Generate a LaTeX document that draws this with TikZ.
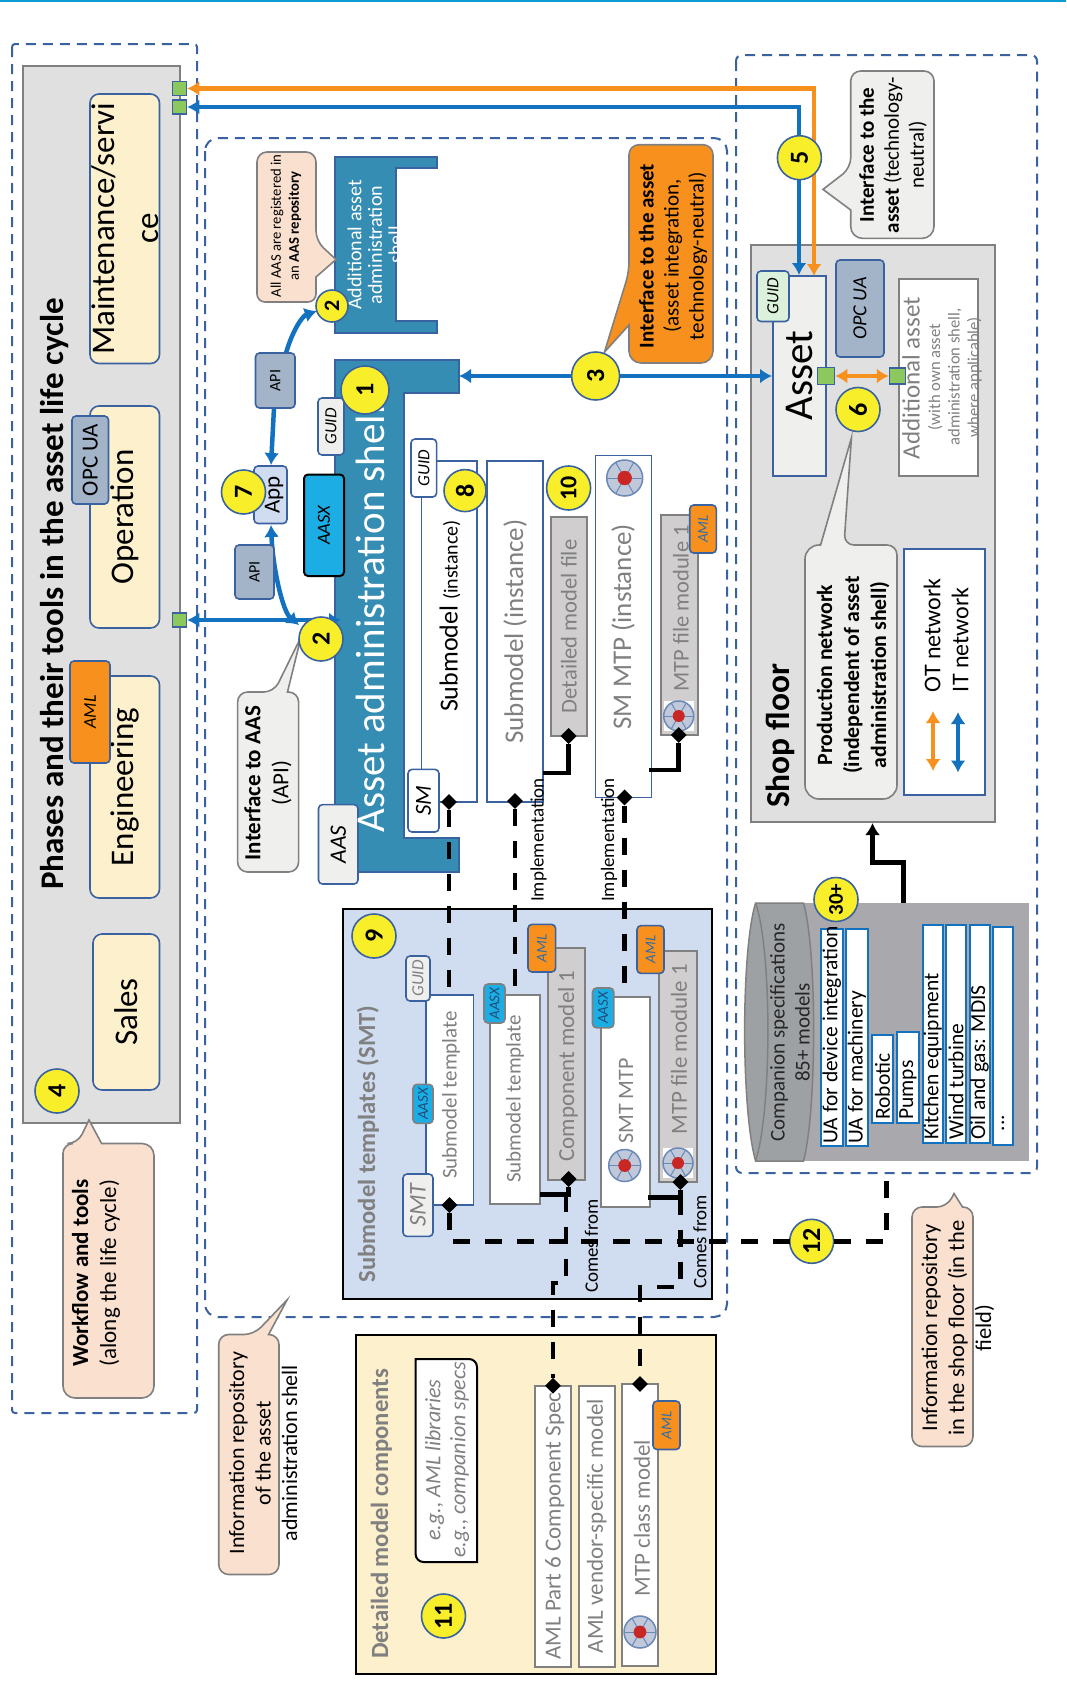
\documentclass[tikz,border=0pt]{standalone}
\usepackage{fontspec}
\setmainfont{Carlito}
\usetikzlibrary{arrows.meta,shapes.geometric}
\definecolor{edgeblue}{HTML}{3A62A0}
\definecolor{arrowblue}{HTML}{1272BF}
\definecolor{arroworange}{HTML}{F8901E}
\definecolor{shellteal}{HTML}{358DB3}
\definecolor{panelgray}{HTML}{E0E0E0}
\definecolor{cream}{HTML}{FDF0CD}
\definecolor{peach}{HTML}{F9E0CF}
\definecolor{paper}{HTML}{EFF0EE}
\definecolor{steel}{HTML}{A3B4C9}
\definecolor{sky}{HTML}{1CADE4}
\definecolor{pale}{HTML}{D0DCEF}
\definecolor{badgeyellow}{HTML}{F8EF2A}
\definecolor{portgreen}{HTML}{8DC85E}
\definecolor{filegray}{HTML}{D0CECE}
\definecolor{midgray}{HTML}{808080}
\definecolor{specgray}{HTML}{A9A8AC}
\definecolor{drumgray}{HTML}{9EA1A4}
\definecolor{inkblue}{HTML}{2F6DA8}
\newcommand{\fs}[2]{\fontsize{#1}{#2}\selectfont}
% style, name, left, top, right, bottom, text
\newcommand{\bx}[7]{\node[#1,minimum width={#6-#4},minimum height={#5-#3}] (#2) at ({(#3+#5)/2},{(#4+#6)/2}) {#7};}
% name, x, y, radius
\newcommand{\mtpicon}[4]{
    \fill[white] ({#2-#4},{#3-#4}) rectangle ({#2+#4},{#3+#4});
    \node[circle,draw=edgeblue!75,fill=pale!80!gray,line width=1.5pt,minimum size=#4*2pt,inner sep=0pt] (#1) at (#2,#3) {};
    \foreach \a in {0,60,...,300}{
        \draw[edgeblue!75,line width=1pt] (#1.center) -- ++(\a:#4);
    }
    \node[circle,fill=red!75!black!85,minimum size=#4*0.8pt,inner sep=0pt] (#1red) at (#2,#3) {};
}
\tikzset{
    lbl/.style={rotate=90,align=center,inner sep=0pt,outer sep=0pt},
    hollow/.style={draw=edgeblue,dash pattern=on 10pt off 7pt,line width=2pt},
    cell/.style={lbl,draw=edgeblue,line width=1.6pt,fill=white},
    grayedge/.style={cell,draw=midgray,line width=2pt},
    rrect/.style={cell,rounded corners=9pt},
    phasebox/.style={rrect,fill=cream,font=\fs{33}{44}},
    tagbox/.style={cell,rounded corners=4pt,font=\itshape\fs{17}{20}},
    minitag/.style={tagbox,fill=sky,draw=midgray,text=inkblue!70!black,font=\itshape\fs{15}{16}},
    amltag/.style={tagbox,fill=arroworange,text=inkblue,font=\itshape\fs{15}{18}},
    filebox/.style={grayedge,fill=filegray,text=midgray},
    speclist/.style={cell,draw=arrowblue,line width=2pt},
    listtxt/.style={lbl,anchor=west,font=\fs{21.5}{24}},
    port/.style={draw=edgeblue,fill=portgreen,line width=1.5pt,minimum size=14pt,inner sep=0pt},
    badge/.style={lbl,circle,draw=edgeblue,fill=badgeyellow,line width=1.6pt,minimum size=44pt,font=\bfseries\fs{26}{26}},
    joint/.style={diamond,fill=black,minimum size=16pt,inner sep=0pt},
    shellbody/.style={fill=shellteal,draw=edgeblue,line width=1.4pt},
    peachcall/.style={fill=peach,draw=midgray,line width=1.6pt,rounded corners=10pt},
    graycall/.style={fill=paper,draw=midgray,line width=1.6pt,rounded corners=10pt},
    orangecall/.style={fill=arroworange,draw=midgray,line width=1.6pt,rounded corners=10pt},
    bluearrow/.style={draw=arrowblue,line width=4.5pt,-{Latex[length=12pt,width=15pt]}},
    bluetwin/.style={draw=arrowblue,line width=4.5pt,{Latex[length=12pt,width=15pt]}-{Latex[length=12pt,width=15pt]}},
    orangetwin/.style={draw=arroworange,line width=4.5pt,{Latex[length=12pt,width=15pt]}-{Latex[length=12pt,width=15pt]}},
    solidlink/.style={draw=black,line width=4.5pt},
    blacklink/.style={solidlink,-{Latex[length=12pt,width=15pt]}},
    dashlink/.style={draw=black,line width=4.5pt,dash pattern=on 17pt off 15pt},
    note/.style={lbl,font=\fs{19}{20}},
}
\begin{document}
\begin{tikzpicture}[x=1pt,y=-1pt]
    \useasboundingbox (0,0) rectangle (1066,1705);
    \fill[white] (0,0) rectangle (1066,1705);
    \draw[color=arrowblue!70!cyan,line width=2pt] (0,1) -- (1066,1);

    % dashed frames
    \draw[hollow,rounded corners=3pt] (12,44) rectangle (197,1413);
    \draw[hollow,rounded corners=13pt] (205,138) rectangle (727,1317);
    \draw[hollow,rounded corners=6pt] (736,55) rectangle (1037,1173);

    % phases
    \draw[fill=panelgray,draw=midgray,line width=2pt] (23,66) rectangle (180,1123);
    \node[lbl,font=\bfseries\fs{33}{34}] (phasetitle) at (55,594) {Phases and their tools in the asset life cycle};
    \bx{phasebox}{maint}{90}{94}{159.5}{363.5}{Maintenance/servi\\ce}
    \bx{phasebox}{oper}{90}{406}{159.5}{628}{Operation}
    \bx{phasebox}{engin}{90}{676}{159.5}{898}{Engineering}
    \bx{phasebox}{sales}{93}{934}{159.5}{1090}{Sales}
    \bx{tagbox,fill=steel,font=\fs{23}{24}}{opcphase}{72}{416}{108.5}{504}{OPC UA}
    \bx{tagbox,fill=arroworange,font=\itshape\fs{18}{24}}{amlphase}{70}{661}{110}{763}{AML}
    \node[port] (portot) at (179.5,88.5) {};
    \node[port] (portit) at (179.5,107) {};
    \node[port] (portaas) at (179.5,620) {};
    \node[badge] (nfour) at (57,1091) {4};
    \draw[peachcall] (63,1270) -- (63,1143.5) -- (77.5,1143.5) [sharp corners] -- (89,1120) -- (101.6,1143.5) [rounded corners=12pt] -- (154,1143.5) -- (154,1398) -- (63,1398) -- cycle;
    \node[lbl,font=\fs{23}{28}] (workflow) at (96,1273) {\textbf{Workflow and tools}\\(along the life cycle)};

    % additional shell
    \draw[shellbody] (335,157) -- (437,157) -- (437,168) -- (396,168) -- (396,321) -- (437,321) -- (437,333) -- (335,333) -- cycle;
    \node[lbl,text=white,font=\fs{20}{20.5}] (addshell) at (375,245) {Additional asset\\administration\\shell};
    \draw[peachcall] (257,230) -- (257,152) -- (316,152) -- (316,241) [sharp corners] -- (336,259.5) -- (316,277) [rounded corners=8pt] -- (316,302) -- (257,302) -- cycle;
    \node[lbl,font=\fs{14.7}{18}] (registered) at (286,226) {All AAS are registered in\\an \textbf{AAS repository}};
    \node[badge,minimum size=32pt,font=\bfseries\fs{22}{22}] (ntwotop) at (332,306) {2};

    % main shell
    \draw[shellbody] (335,360) -- (459,360) -- (459,393) -- (404,393) -- (404,838) -- (459,838) -- (459,872) -- (335,872) -- cycle;
    \bx{tagbox,fill=paper,font=\fs{23.5}{24}\itshape}{aastag}{318.5}{804.6}{358}{884}{AAS}
    \node[lbl,text=white,font=\fs{41}{44}] (shellname) at (370,619) {Asset administration shell};
    \bx{tagbox,fill=paper}{guidshell}{318}{398}{344}{455}{GUID}
    \bx{tagbox,fill=sky,draw=black,line width=2pt,font=\itshape\fs{18.5}{24}}{aasx}{304}{474.5}{344}{576}{AASX}
    \node[badge,minimum size=48pt] (none) at (365,390) {1};

    % api and app
    \coordinate (apitopend) at (286,353);
    \coordinate (apitopfoot) at (274,408);
    \coordinate (apphead) at (271,465);
    \coordinate (appfoot) at (271,525);
    \coordinate (shellcurve) at (299,625);
    \coordinate (shellin) at (341,620);
    \draw[bluearrow] (apitopfoot) -- (apphead);
    \draw[bluearrow] (apitopend) .. controls (292,332) and (302,316) .. (ntwotop);
    \draw[bluetwin] (appfoot) .. controls (273,570) and (283,612) .. (shellcurve);
    \draw[bluetwin] (portaas) -- (shellin);
    \bx{tagbox,fill=steel,font=\fs{16}{20}}{apitop}{255.5}{353}{295}{408}{API}
    \bx{tagbox,fill=steel,font=\fs{16}{20}}{apilow}{235}{545}{274}{599}{API}
    \bx{tagbox,fill=pale}{app}{254}{466}{287}{523.5}{}
    \node[lbl,font=\fs{23}{26}] (apptxt) at (274,495) {App};
    \node[badge] (nseven) at (243.5,492) {7};
    \draw[graycall] (237.6,780) -- (237.6,692) -- (274,692) [sharp corners] -- (301,637) -- (287.5,692) [rounded corners=10pt] -- (298.6,692) -- (298.6,872) -- (237.6,872) -- cycle;
    \node[badge] (ntwo) at (321,639) {2};
    \node[lbl,font=\fs{23}{28}] (ifaas) at (268,783) {\textbf{Interface to AAS}\\(API)};

    % submodel instances
    \bx{cell}{smfirst}{421.5}{461}{477}{802}{}
    \node[lbl] (smfirsttxt) at (450,616) {\fs{26}{28}Submodel \fs{20}{28}(instance)};
    \bx{tagbox}{guidsm}{411}{439}{436.6}{497}{GUID}
    \bx{tagbox,font=\itshape\fs{23}{24}}{smtag}{408}{769.4}{439}{832}{SM}
    \node[badge,minimum size=42pt] (neight) at (465,490.6) {8};
    \bx{cell,text=midgray,font=\fs{27}{28}}{smsecond}{487}{461}{543}{802}{Submodel (instance)}
    \bx{cell}{smmtp}{595.6}{455.4}{651.4}{797.4}{}
    \node[lbl,text=midgray,font=\fs{27}{28}] (smmtptxt) at (623,626.6) {SM MTP (instance)};
    \bx{filebox,font=\fs{22.6}{26}}{detailfile}{550.5}{516.6}{587.4}{736}{Detailed model file}
    \bx{filebox}{mtpfile}{661}{514.7}{697.5}{735}{}
    \node[lbl,text=midgray,font=\fs{22.5}{26}] (mtpfiletxt) at (681,608.5) {MTP file module 1};
    \bx{amltag}{amlfile}{689.7}{505}{716.3}{553}{AML}
    \node[badge,font=\bfseries\fs{24}{24}] (nten) at (568.6,488) {10};
    \mtpicon{iconsm}{624.7}{478}{18}
    \mtpicon{iconfile}{678.7}{716}{15}
    \coordinate (detailbend) at (543,773);
    \coordinate (mtpbend) at (648.6,770);
    \node[joint] (jdetail) at (568.6,736) {};
    \node[joint] (jmtpfile) at (678.7,735) {};
    \draw[solidlink] (jdetail) |- (detailbend);
    \draw[solidlink] (jmtpfile) |- (mtpbend);
    \node[note] (implone) at (538.5,840) {Implementation};
    \node[note] (impltwo) at (609,840) {Implementation};

    % asset side
    \draw[orangecall] (713,250) -- (713,144.7) -- (629,144.7) -- (629,272) [sharp corners] -- (604.5,352) -- (629,325) [rounded corners=12pt] -- (629,363) -- (713,363) -- cycle;
    \node[lbl,font=\fs{21}{25}] (ifasset) at (673,256) {\textbf{Interface to the asset}\\(asset integration,\\technology-neutral)};
    \draw[fill=panelgray,draw=midgray,line width=2pt] (750.5,245) rectangle (995,822);
    \draw[graycall] (934,150) -- (934,71) -- (850.7,71) -- (850.7,168) [sharp corners] -- (823,189.4) -- (850.7,210) [rounded corners=12pt] -- (850.7,238.4) -- (934,238.4) -- cycle;
    \node[lbl,font=\fs{21}{25}] (iftech) at (893,155) {\textbf{Interface to the}\\\textbf{asset} (technology-\\neutral)};
    \bx{cell,fill=paper,font=\fs{41}{42}}{asset}{772.7}{276}{826}{475.7}{Asset}
    \bx{tagbox,fill=green!8!paper}{guidasset}{757}{271}{789}{321.5}{GUID}
    \bx{tagbox,fill=steel,font=\itshape\fs{20}{24}}{opcasset}{836}{260}{884}{357}{OPC UA}
    \bx{grayedge}{addasset}{898.5}{279}{978}{476}{}
    \node[lbl,text=midgray,font=\fs{25}{30}] (addname) at (911,378) {Additional asset};
    \node[lbl,text=midgray,font=\fs{16.6}{19.5}] (addnote) at (955,377) {(with own asset\\administration shell,\\where applicable)};
    \node[port,minimum size=17pt] (portasset) at (826,376) {};
    \node[port,minimum size=16pt] (portadd) at (897.5,376) {};
    \draw[orangetwin] (portasset) -- (portadd);
    \coordinate (assetit) at (799,275);
    \coordinate (assetot) at (814,276);
    \coordinate (assetleft) at (772,376);
    \coordinate (shellright) at (459,376);
    \draw[orangetwin] (portot.east) -| (assetot);
    \draw[bluetwin] (portit.east) -| (assetit);
    \draw[bluetwin] (shellright) -- (assetleft);
    \node[badge,minimum size=48pt] (nthree) at (595.6,376) {3};
    \node[badge] (nfive) at (799.4,157.7) {5};
    \node[badge] (nsix) at (858,409.5) {6};
    \draw[graycall] (897,670) -- (897,545) -- (844,545) [sharp corners] -- (851.4,438) -- (820.6,545) [rounded corners=14pt] -- (805,545) -- (805,799) -- (897,799) -- cycle;
    \node[lbl,font=\bfseries\fs{21.8}{27}] (prodnet) at (853,675) {Production network\\(independent of asset\\administration shell)};
    \node[lbl,font=\bfseries\fs{33.5}{36}] (shopfloor) at (780,736) {Shop floor};
    \bx{cell}{legend}{904}{549}{985}{795}{}
    \node[lbl,anchor=west,font=\fs{24}{28}] (ottxt) at (932,692) {OT network};
    \node[lbl,anchor=west,font=\fs{24}{28}] (ittxt) at (960,692) {IT network};
    \coordinate (ottop) at (933,711);
    \coordinate (otbot) at (933,771);
    \coordinate (ittop) at (958,712);
    \coordinate (itbot) at (958,772.5);
    \draw[orangetwin] (ottop) -- (otbot);
    \draw[bluetwin] (ittop) -- (itbot);

    % companion specifications
    \fill[specgray] (755.6,903) rectangle (1028.5,1161);
    \draw[fill=drumgray,draw=midgray,line width=1.5pt] (755.6,903) .. controls (741,950) and (741,1110) .. (755.6,1161) -- (803.5,1161) .. controls (817,1110) and (817,950) .. (803.5,903) -- cycle;
    \draw[draw=midgray,line width=1.5pt] (755.6,903) .. controls (772,950) and (772,1110) .. (755.6,1161);
    \node[lbl,text=black!85,font=\fs{21}{25}] (compspec) at (790,1032.5) {Companion specifications\\85+ models};
    \coordinate (specout) at (903.7,903);
    \coordinate (shopin) at (872.5,823);
    \draw[blacklink] (specout) -- ++(0,-40.6) -| (shopin);
    \foreach \nm/\xa/\xb/\yt/\yb/\txt in {devint/820.6/843/929/1146.4/UA for device integration,
        machinery/846/868/929/1146.4/UA for machinery,
        robotic/872/893/1035/1122.7/Robotic,
        pumps/897/919/1031.6/1122.7/Pumps,
        kitchen/922.5/943/925/1142.6/Kitchen equipment,
        wind/946/966/925/1142.6/Wind turbine,
        oil/969.7/989.5/925/1142.6/Oil and gas: MDIS}{
        \bx{speclist}{\nm}{\xa}{\yt}{\xb}{\yb}{}
        \node[listtxt] (\nm txt) at ({(\xa+\xb)/2},{\yb-3}) {\txt};
    }
    \bx{speclist}{moremodels}{993}{927}{1012.7}{1144.5}{}
    \node[listtxt] (moretxt) at (1003,1131) {...};
    \node[badge,font=\bfseries\fs{21}{22}] (nthirty) at (836,899.5) {30+};

    % submodel templates
    \draw[fill=pale,draw=black,line width=2pt] (343,909) rectangle (712,1299);
    \node[lbl,text=midgray,font=\bfseries\fs{24.6}{28}] (smttitle) at (368,1144) {Submodel templates (SMT)};
    \node[badge] (nnine) at (374,936) {9};
    \bx{cell}{smtfirst}{426}{995}{473.5}{1205}{}
    \node[lbl,text=midgray,font=\fs{21}{24}] (smtfirsttxt) at (451,1095) {Submodel template};
    \bx{tagbox,fill=paper,text=midgray}{guidsmt}{406}{956}{430}{1001}{GUID}
    \bx{minitag}{aasxone}{413}{1084.4}{433}{1123.4}{AASX}
    \bx{tagbox,fill=paper,text=midgray,font=\itshape\fs{24}{24}}{smttag}{403}{1174}{433}{1236.4}{SMT}
    \bx{grayedge}{smtsecond}{490}{995}{540}{1204}{}
    \node[lbl,text=midgray,font=\fs{21}{24}] (smtsecondtxt) at (515,1099) {Submodel template};
    \bx{minitag}{aasxtwo}{484}{984}{505}{1023}{AASX}
    \bx{filebox}{compmodel}{548}{948}{585}{1180}{}
    \node[lbl,text=midgray,font=\fs{23}{24}] (compmodeltxt) at (568,1066) {Component model 1};
    \bx{amltag}{amlcomp}{528}{924.4}{555.6}{972}{AML}
    \bx{grayedge}{smtmtp}{601}{997}{649.6}{1206.6}{}
    \node[lbl,text=midgray,font=\fs{22}{24}] (smtmtptxt) at (626,1101) {SMT MTP};
    \bx{minitag}{aasxthree}{592.5}{988}{613.8}{1027.8}{AASX}
    \bx{filebox}{mtpmodule}{659}{950.5}{696.5}{1182}{}
    \node[lbl,text=midgray,font=\fs{23}{24}] (mtpmoduletxt) at (679,1049) {MTP file module 1};
    \bx{amltag}{amlmodule}{637}{925.6}{664}{973.4}{AML}
    \mtpicon{iconsmt}{624.7}{1165.5}{16}
    \mtpicon{iconmodule}{678}{1163}{15}

    % detailed components
    \draw[fill=cream,draw=black,line width=2pt] (356.4,1335) rectangle (716,1674);
    \node[lbl,text=midgray,font=\bfseries\fs{24.7}{28}] (detailtitle) at (381.5,1514) {Detailed model components};
    \draw[fill=white,draw=black,line width=2pt] (446,1359) [rounded corners=8pt] -- (477,1359) -- (477,1450) [sharp corners] -- (477,1562) -- (446,1562) [rounded corners=8pt] -- (415.6,1562) -- (415.6,1450) [sharp corners] -- (415.6,1359) -- cycle;
    \node[lbl,text=midgray,font=\itshape\fs{22}{25}] (egtxt) at (447,1460) {e.g., AML libraries\\e.g., companion specs};
    \node[badge] (neleven) at (443.5,1616) {11};
    \bx{grayedge}{amlpart}{535}{1385.7}{571}{1666.6}{}
    \node[lbl,text=midgray,font=\fs{23}{26}] (amlparttxt) at (554.6,1526) {AML Part 6 Component Spec};
    \bx{grayedge,text=midgray,font=\fs{23}{26}}{amlvendor}{578.5}{1385.7}{614.8}{1666.6}{AML vendor-specific model}
    \bx{grayedge}{mtpclass}{622}{1384}{658}{1665.5}{}
    \node[lbl,text=midgray,font=\fs{23}{26}] (mtpclasstxt) at (642,1518) {MTP class model};
    \bx{amltag}{amlclass}{653}{1401}{680}{1449.5}{AML}
    \mtpicon{iconclass}{640}{1632}{16}

    % links between the levels
    \node[joint] (jfirst) at (449,802) {};
    \node[joint] (jsecond) at (515,801) {};
    \node[joint] (jmtp) at (624.5,797.4) {};
    \node[joint] (jsmt) at (449.4,1205) {};
    \node[joint] (jcomp) at (568.6,1179) {};
    \node[joint] (jmodule) at (680.4,1182) {};
    \node[joint] (jpart) at (553,1385.7) {};
    \node[joint] (jclass) at (640,1384) {};
    \coordinate (smtfirsttop) at (449,995);
    \coordinate (smtsecondtop) at (515,995);
    \coordinate (smtmtptop) at (624.5,997);
    \coordinate (compbend) at (566,1194.6);
    \coordinate (compedge) at (540,1194.6);
    \coordinate (modulebend) at (680.4,1197.6);
    \coordinate (moduleedge) at (648,1197.6);
    \coordinate (frametap) at (886.6,1173);
    \draw[dashlink] (jfirst) -- (smtfirsttop);
    \draw[dashlink] (jsecond) -- (smtsecondtop);
    \draw[dashlink] (jmtp) -- (smtmtptop);
    \draw[solidlink] (jcomp) |- (compedge);
    \draw[solidlink] (jmodule) |- (moduleedge);
    \draw[dashlink] (compbend) -- ++(0,88.4) -| (jpart);
    \draw[dashlink] (modulebend) -- ++(0,89.4) -| (jclass);
    \node[badge] (ntwelve) at (811.7,1241.3) {12};
    \draw[dashlink] (jsmt) |- (ntwelve);
    \draw[dashlink] (ntwelve) -| (frametap);
    \node[note] (comesone) at (591.5,1246) {Comes from};
    \node[note] (comestwo) at (700,1242) {Comes from};

    % remaining notes
    \draw[peachcall] (218.7,1450) -- (218.7,1334.5) -- (254,1334.5) [sharp corners] -- (287,1300) -- (268.6,1334.5) [rounded corners=10pt] -- (279,1334.5) -- (279,1574.5) -- (218.7,1574.5) -- cycle;
    \node[lbl,font=\fs{22}{26.5}] (infoaas) at (263,1453) {Information repository\\of the asset\\administration shell};
    \draw[peachcall] (912,1320) -- (912,1207) -- (947,1207) [sharp corners] -- (954,1193.5) -- (962.5,1207) [rounded corners=10pt] -- (973,1207) -- (973,1446.5) -- (912,1446.5) -- cycle;
    \node[lbl,font=\fs{22.5}{27}] (infofield) at (958,1328) {Information repository\\in the shop floor (in the\\field)};
\end{tikzpicture}
\end{document}
